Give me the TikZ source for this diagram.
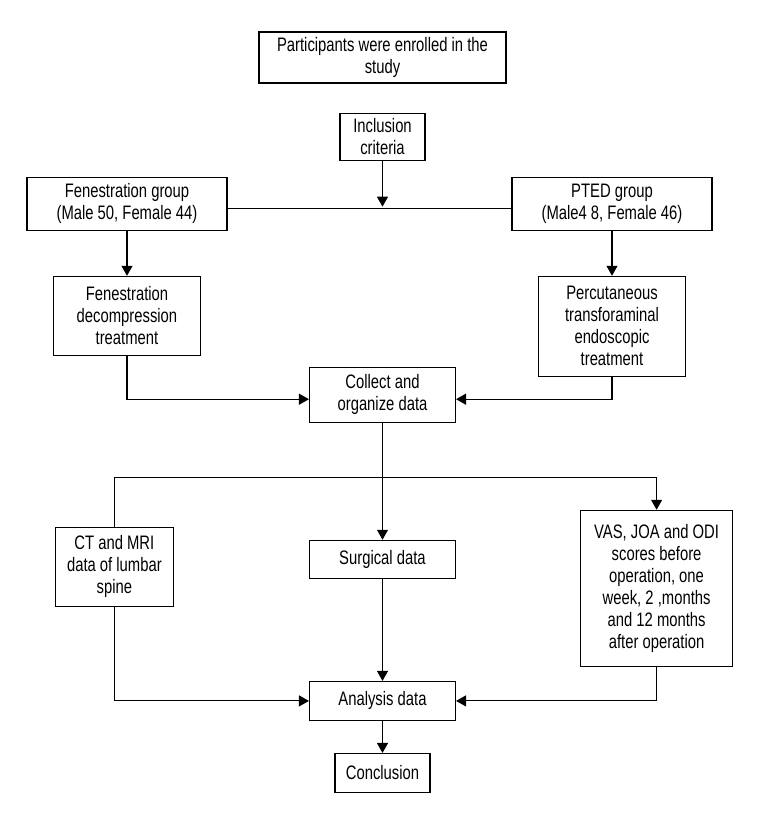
\documentclass[tikz,border=0pt]{standalone}
\usepackage{fontspec}
\setmainfont{Liberation Sans}[FakeStretch=0.76]
\usetikzlibrary{positioning,arrows.meta}
\tikzset{
  box/.style={draw, line width=1.1pt, align=center, inner sep=2pt,
    font=\fontsize{19.5}{22}\selectfont},
  link/.style={line width=1.1pt},
  arr/.style={link, -{Triangle[width=11pt,length=10pt]}}
}

\begin{document}
\begin{tikzpicture}
            \useasboundingbox (-382.5pt,57.5pt) rectangle (377.5pt,-762.5pt);
            \draw node (P) [box, minimum width=247pt, minimum height=51pt] at (0,0) {Participants were enrolled in the\\study};
            \draw node (I) [box, below = 29pt of P, minimum width=85pt, minimum height=47pt] {Inclusion\\criteria};
            \coordinate [below = 48pt of I] (J);

            \draw node (FG) [box, below = 16pt of I, xshift=-255.5pt, minimum width=200pt, minimum height=53pt] {Fenestration group\\(Male 50, Female 44)};
            \draw node (PG) [box, below = 16pt of I, xshift=229.5pt, minimum width=200pt, minimum height=53pt] {PTED group\\(Male4 8, Female 46)};
            \draw[arr, shorten >=2pt] (I) -- (J);
            \draw[link] (FG.east |- J) -- (PG.west |- J);

            \draw node (FT) [box, below = 45pt of FG, minimum width=147pt, minimum height=79pt] {Fenestration\\decompression\\treatment};
            \draw node (PT) [box, below = 45pt of PG, minimum width=147pt, minimum height=100pt] {Percutaneous\\transforaminal\\endoscopic\\treatment};
            \draw[arr] (FG) -- (FT);
            \draw[arr] (PG) -- (PT);

            \draw node (C) [box, below = 206pt of I, minimum width=146pt, minimum height=55pt] {Collect and\\organize data};
            \draw[arr] (FT.south) |- ([yshift=-4.5pt]C.west);
            \draw[arr] (PT.south) |- ([yshift=-4.5pt]C.east);

            \draw node (S) [box, below = 117pt of C, minimum width=146pt, minimum height=38pt] {Surgical data};
            \draw node (CT) [box, left = 135pt of S, yshift=-7.5pt, minimum width=118pt, minimum height=79pt] {CT and MRI\\data of lumbar\\spine};
            \draw node (V) [box, right = 124pt of S, yshift=-29pt, minimum width=152pt, minimum height=156pt] {VAS, JOA and ODI\\scores before\\operation, one\\week, 2 ,months\\and 12 months\\after operation};
            \coordinate [below = 55pt of C] (T);
            \draw[arr] (C) -- (S);
            \draw[arr] (CT.north) |- (T) -| (V.north);

            \draw node (A) [box, below = 102pt of S, minimum width=146pt, minimum height=39pt] {Analysis data};
            \draw[arr] (S) -- (A);
            \draw[arr] (CT.south) |- (A.west);
            \draw[arr] (V.south) |- (A.east);

            \draw node (E) [box, below = 32pt of A, minimum width=95pt, minimum height=39pt] {Conclusion};
            \draw[arr] (A) -- (E);
\end{tikzpicture}
\end{document}
